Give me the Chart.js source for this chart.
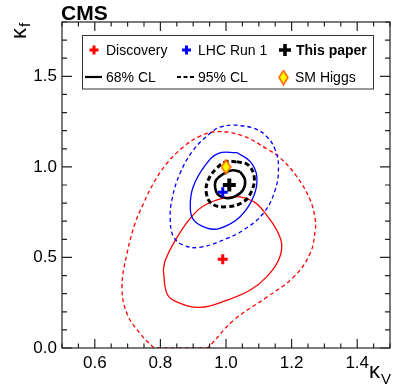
<!DOCTYPE html>
<html>
<head>
<meta charset="utf-8">
<script src="https://cdn.jsdelivr.net/npm/chart.js@4/dist/chart.umd.min.js"></script>
<style>
  html, body { margin: 0; padding: 0; background: #fff; }
</style>
</head>
<body>
<canvas id="chart" width="407" height="391"></canvas>
<script>
// contour points, (kappa_V, kappa_f)
const discovery95 = [
  [0.78, 0.0], [0.738, 0.08], [0.698, 0.19], [0.683, 0.34], [0.698, 0.52], [0.723, 0.69],
  [0.749, 0.80], [0.779, 0.91], [0.82, 1.02], [0.87, 1.11], [0.921, 1.17], [0.977, 1.195],
  [1.053, 1.17], [1.124, 1.10], [1.165, 1.05], [1.216, 0.946], [1.256, 0.82], [1.272, 0.71],
  [1.272, 0.65], [1.256, 0.52], [1.205, 0.39], [1.124, 0.28], [1.023, 0.153], [0.952, 0.015],
  [0.94, 0.0], [0.86, 0.0], [0.78, 0.0]
];
const discovery68 = [
  [0.809, 0.43], [0.82, 0.30], [0.85, 0.255], [0.921, 0.224], [1.003, 0.264], [1.074, 0.32],
  [1.124, 0.393], [1.16, 0.485], [1.17, 0.57], [1.155, 0.65], [1.124, 0.734], [1.084, 0.808],
  [1.023, 0.836], [0.942, 0.795], [0.891, 0.716], [0.84, 0.578], [0.815, 0.485], [0.809, 0.43]
];
const run1_95 = [
  [1.023, 1.232], [1.084, 1.214], [1.124, 1.168], [1.15, 1.094], [1.16, 1.002], [1.15, 0.873],
  [1.114, 0.744], [1.053, 0.651], [1.003, 0.605], [0.921, 0.556], [0.87, 0.568], [0.84, 0.614],
  [0.83, 0.707], [0.835, 0.817], [0.86, 0.965], [0.901, 1.094], [0.952, 1.186], [0.982, 1.22],
  [1.023, 1.232]
];
const run1_68 = [
  [1.033, 1.079], [1.074, 1.029], [1.094, 0.946], [1.084, 0.836], [1.043, 0.725], [0.982, 0.661],
  [0.942, 0.662], [0.901, 0.707], [0.891, 0.78], [0.90, 0.89], [0.937, 1.01], [0.977, 1.075],
  [1.033, 1.079]
];
const paper95 = [
  [1.033, 1.029], [1.067, 1.011], [1.086, 0.945], [1.077, 0.862], [1.052, 0.806], [1.003, 0.78],
  [0.958, 0.795], [0.94, 0.856], [0.946, 0.928], [0.972, 0.993], [1.0, 1.028], [1.033, 1.029]
];
const paper68 = [
  [1.043, 0.974], [1.058, 0.928], [1.052, 0.873], [1.028, 0.837], [1.003, 0.827], [0.977, 0.845],
  [0.967, 0.884], [0.97, 0.928], [0.992, 0.961], [1.019, 0.981], [1.043, 0.974]
];
const bestDiscovery = [0.99, 0.49];
const bestRun1 = [0.99, 0.86];
const bestPaper = [1.01, 0.90];
const smHiggs = [1.0, 1.0];

const xLabels = [0.6, 0.8, 1.0, 1.2, 1.4];
const yLabels = [0.0, 0.5, 1.0, 1.5];

const FONT = '"Liberation Sans", Arial, Helvetica, sans-serif';
const pts = arr => arr.map(p => ({ x: p[0], y: p[1] }));

function contour(data, color, width, dash, order) {
  return {
    data: pts(data), showLine: true, borderColor: color, borderWidth: width,
    borderDash: dash, pointRadius: 0, pointHoverRadius: 0, tension: 0.4, fill: false, order
  };
}

// tall diamond for the SM point
const diamond = document.createElement('canvas');
diamond.width = 11; diamond.height = 16;
(() => {
  const c = diamond.getContext('2d');
  c.beginPath();
  c.moveTo(5.5, 1); c.lineTo(10, 8); c.lineTo(5.5, 15); c.lineTo(1, 8); c.closePath();
  c.fillStyle = '#ffff00'; c.fill();
  c.strokeStyle = '#ff6600'; c.lineWidth = 1.6; c.stroke();
})();

function cross(ctx, x, y, half, lw, color) {
  ctx.save();
  ctx.strokeStyle = color; ctx.lineWidth = lw;
  ctx.beginPath();
  ctx.moveTo(x - half, y); ctx.lineTo(x + half, y);
  ctx.moveTo(x, y - half); ctx.lineTo(x, y + half);
  ctx.stroke();
  ctx.restore();
}

const decor = {
  id: 'decor',
  afterDraw(chart) {
    const { ctx, chartArea: a, scales: { x, y } } = chart;
    ctx.save();
    // frame
    ctx.strokeStyle = '#222'; ctx.lineWidth = 1.2;
    ctx.strokeRect(a.left, a.top, a.right - a.left, a.bottom - a.top);
    // inward ticks on all four sides
    ctx.beginPath();
    for (let i = 0; i <= 20; i++) {
      const v = 0.5 + i * 0.05;
      const px = x.getPixelForValue(v);
      const major = Math.abs((v * 10) % 2) < 0.01 || Math.abs((v * 10) % 2 - 2) < 0.01;
      const len = major ? 9 : 4.5;
      ctx.moveTo(px, a.bottom); ctx.lineTo(px, a.bottom - len);
      ctx.moveTo(px, a.top); ctx.lineTo(px, a.top + len);
    }
    for (let i = 0; i <= 18; i++) {
      const v = i * 0.1;
      const py = y.getPixelForValue(v);
      const len = (i % 5 === 0) ? 10 : 5;
      ctx.moveTo(a.left, py); ctx.lineTo(a.left + len, py);
      ctx.moveTo(a.right, py); ctx.lineTo(a.right - len, py);
    }
    ctx.stroke();

    // CMS label
    ctx.fillStyle = '#000';
    ctx.font = 'bold 21px ' + FONT;
    ctx.textBaseline = 'alphabetic';
    ctx.fillText('CMS', 61, 20);

    // axis titles
    ctx.font = '22px ' + FONT;
    ctx.fillText('κ', 369, 378);
    ctx.font = '15px ' + FONT;
    ctx.fillText('V', 381, 384);
    ctx.save();
    ctx.translate(26, 39);
    ctx.rotate(-Math.PI / 2);
    ctx.font = '22px ' + FONT;
    ctx.fillText('κ', 0, 0);
    ctx.font = '15px ' + FONT;
    ctx.fillText('f', 12, 4);
    ctx.restore();

    // legend box
    ctx.fillStyle = '#fff';
    ctx.fillRect(82, 35.5, 291, 53.5);
    ctx.strokeStyle = '#333'; ctx.lineWidth = 1;
    ctx.strokeRect(82.5, 35.5, 291, 53.5);
    cross(ctx, 94, 50, 4.5, 3, '#ff0000');
    cross(ctx, 186.5, 50, 4.5, 3, '#0000ff');
    cross(ctx, 285, 50, 6, 3.6, '#000');
    ctx.fillStyle = '#000';
    ctx.font = '14px ' + FONT;
    ctx.fillText('Discovery', 106, 55);
    ctx.fillText('LHC Run 1', 198, 55);
    ctx.fillText('68% CL', 106, 82);
    ctx.fillText('95% CL', 198, 82);
    ctx.fillText('SM Higgs', 295, 82);
    ctx.font = 'bold 14px ' + FONT;
    ctx.fillText('This paper', 296, 55);
    ctx.strokeStyle = '#000'; ctx.lineWidth = 2.2;
    ctx.beginPath(); ctx.moveTo(85, 77); ctx.lineTo(102, 77); ctx.stroke();
    ctx.setLineDash([4, 2.5]);
    ctx.beginPath(); ctx.moveTo(177, 77); ctx.lineTo(195, 77); ctx.stroke();
    ctx.setLineDash([]);
    ctx.drawImage(diamond, 283.5 - 5.5, 77.5 - 8);
    ctx.restore();
  }
};

new Chart(document.getElementById('chart'), {
  type: 'scatter',
  data: {
    datasets: [
      { data: pts([smHiggs]), pointStyle: diamond, pointRadius: 6, order: 0 },
      { data: pts([bestPaper]), pointStyle: 'cross', pointRadius: 6.5, borderWidth: 4, borderColor: '#000', order: 1 },
      { data: pts([bestRun1]), pointStyle: 'cross', pointRadius: 5, borderWidth: 3, borderColor: '#0000ff', order: 2 },
      { data: pts([bestDiscovery]), pointStyle: 'cross', pointRadius: 5, borderWidth: 3, borderColor: '#ff0000', order: 3 },
      contour(paper68, '#000', 2.6, [], 4),
      contour(paper95, '#000', 3, [5, 3], 5),
      contour(run1_68, '#0000ff', 1.3, [], 6),
      contour(run1_95, '#0000ff', 1.3, [4, 3], 7),
      contour(discovery68, '#ff0000', 1.3, [], 8),
      contour(discovery95, '#ff0000', 1.3, [4, 3], 9)
    ]
  },
  options: {
    responsive: false,
    animation: false,
    events: [],
    layout: { padding: { top: 22, right: 17, left: 0, bottom: 0 } },
    plugins: { legend: { display: false }, tooltip: { enabled: false } },
    scales: {
      x: {
        type: 'linear', min: 0.5, max: 1.5,
        grid: { display: false, drawTicks: false },
        border: { display: false },
        afterBuildTicks: s => { s.ticks = xLabels.map(v => ({ value: v })); },
        afterFit: s => { s.height = 43; },
        ticks: { color: '#000', padding: 5, font: { family: FONT, size: 17 }, callback: v => v.toFixed(1), maxRotation: 0 }
      },
      y: {
        type: 'linear', min: 0, max: 1.8,
        grid: { display: false, drawTicks: false },
        border: { display: false },
        afterBuildTicks: s => { s.ticks = yLabels.map(v => ({ value: v })); },
        afterFit: s => { s.width = 62; },
        ticks: { color: '#000', padding: 5, font: { family: FONT, size: 17 }, callback: v => v.toFixed(1) }
      }
    }
  },
  plugins: [decor]
});
</script>
</body>
</html>
